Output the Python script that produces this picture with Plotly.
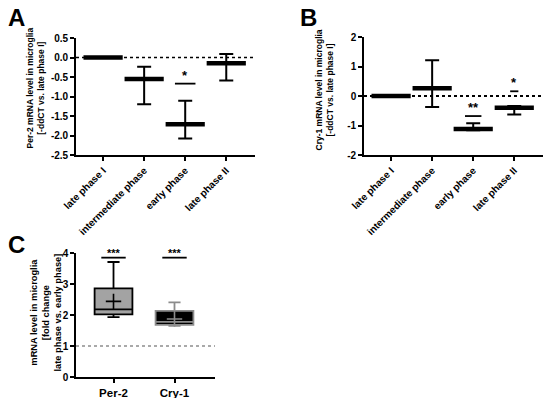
import plotly.graph_objects as go

# ---------------- data ----------------
phases = ["late phase I", "intermediate phase", "early phase", "late phase II"]

per2_mean = [0.0, -0.55, -1.71, -0.15]
per2_err_hi = [0.0, 0.31, 0.60, 0.24]
per2_err_lo = [0.0, 0.65, 0.37, 0.44]
per2_sig_idx = [2]
per2_sig_y = [-0.67]
per2_sig_txt = ["*"]
yA_ticks = [0.5, 0.0, -0.5, -1.0, -1.5, -2.0, -2.5]
yA_labels = ["0.5", "0.0", "-0.5", "-1.0", "-1.5", "-2.0", "-2.5"]

cry1_mean = [0.0, 0.26, -1.12, -0.40]
cry1_err_hi = [0.0, 0.95, 0.20, 0.06]
cry1_err_lo = [0.0, 0.63, 0.04, 0.23]
cry1_sig_idx = [2, 3]
cry1_sig_y = [-0.68, 0.16]
cry1_sig_txt = ["**", "*"]
yB_ticks = [2, 1, 0, -1, -2]
yB_labels = ["2", "1", "0", "-1", "-2"]

genes = ["Per-2", "Cry-1"]
box_lower = [1.93, 1.65]
box_q1 = [2.02, 1.68]
box_median = [2.18, 1.78]
box_q3 = [2.86, 2.13]
box_upper = [3.71, 2.41]
box_mean = [2.44, 1.87]
box_sig_y = [3.85, 3.85]
box_sig_txt = ["***", "***"]

ref_AB = 0
ref_C = 1

# ---------------- style ----------------
W, H = 550, 398
FONT = "Liberation Sans, Arial, sans-serif"
BLACK = "#000000"


def xd(a, b):
    return [a / W, b / W]


def yd(top, bottom):
    return [(H - bottom) / H, (H - top) / H]


fig = go.Figure()

# ----- Panel A & B: mean with error bars -----
for k, (mean, hi, lo, sidx, sy, stxt, xa, ya) in enumerate([
    (per2_mean, per2_err_hi, per2_err_lo, per2_sig_idx, per2_sig_y, per2_sig_txt, "x", "y"),
    (cry1_mean, cry1_err_hi, cry1_err_lo, cry1_sig_idx, cry1_sig_y, cry1_sig_txt, "x2", "y2"),
]):
    xs = list(range(len(phases)))
    fig.add_trace(go.Scatter(
        x=xs, y=mean, mode="markers", xaxis=xa, yaxis=ya,
        marker=dict(symbol="line-ew", size=28, color=BLACK,
                    line=dict(width=4.5, color=BLACK)),
        error_y=dict(type="data", array=hi, arrayminus=lo, symmetric=False,
                     color=BLACK, thickness=2, width=7),
        showlegend=False, hoverinfo="skip"))
    half = 0.25 if k == 0 else 0.2
    for i, yv, t in zip(sidx, sy, stxt):
        hw = half if t != "*" or k == 0 else 0.1
        fig.add_trace(go.Scatter(
            x=[i - hw, i + hw], y=[yv, yv], mode="lines", xaxis=xa, yaxis=ya,
            line=dict(color=BLACK, width=1.8), showlegend=False, hoverinfo="skip"))
        fig.add_annotation(x=i, y=yv, xref=xa, yref=ya, text="<b>" + t + "</b>",
                           showarrow=False, yanchor="bottom", yshift=-1,
                           font=dict(family=FONT, size=13, color=BLACK))

# ----- Panel C: box plots -----
box_fill = ["#a3a3a3", "#000000"]
box_line = ["#000000", "#8c8c8c"]
for j, g in enumerate(genes):
    fig.add_trace(go.Box(
        x=[j], q1=[box_q1[j]], median=[box_median[j]], q3=[box_q3[j]],
        lowerfence=[box_lower[j]], upperfence=[box_upper[j]],
        xaxis="x3", yaxis="y3", width=0.62, whiskerwidth=0.32,
        fillcolor=box_fill[j], line=dict(color=box_line[j], width=1.8),
        boxpoints=False, showlegend=False, hoverinfo="skip"))
    fig.add_trace(go.Scatter(
        x=[j], y=[box_mean[j]], mode="markers", xaxis="x3", yaxis="y3",
        marker=dict(symbol="cross-thin", size=11,
                    line=dict(width=1.6, color=box_line[j])),
        showlegend=False, hoverinfo="skip"))
    fig.add_trace(go.Scatter(
        x=[j - 0.2, j + 0.2], y=[box_sig_y[j], box_sig_y[j]], mode="lines",
        xaxis="x3", yaxis="y3", line=dict(color=BLACK, width=1.8),
        showlegend=False, hoverinfo="skip"))
    fig.add_annotation(x=j, y=box_sig_y[j], xref="x3", yref="y3",
                       text="<b>" + box_sig_txt[j] + "</b>", showarrow=False,
                       yanchor="bottom", yshift=-3,
                       font=dict(family=FONT, size=11, color=BLACK))

# reference lines
fig.add_shape(type="line", xref="x domain", yref="y", x0=0, x1=1, y0=ref_AB, y1=ref_AB,
              line=dict(color=BLACK, width=1.3, dash="dot"))
fig.add_shape(type="line", xref="x2 domain", yref="y2", x0=0, x1=1, y0=ref_AB, y1=ref_AB,
              line=dict(color=BLACK, width=1.8, dash="dot"))
fig.add_shape(type="line", xref="x3 domain", yref="y3", x0=0, x1=1, y0=ref_C, y1=ref_C,
              line=dict(color="#555555", width=1.1, dash="dot"))

tickfont = dict(family=FONT, size=10, color=BLACK, weight="bold")
axis_common = dict(showline=True, linecolor=BLACK, linewidth=1.6, ticks="outside",
                   ticklen=4, tickwidth=1.6, tickcolor=BLACK, showgrid=False,
                   zeroline=False, tickfont=tickfont)

fig.update_layout(
    width=W, height=H, margin=dict(l=0, r=0, t=0, b=0, autoexpand=False),
    paper_bgcolor="white", plot_bgcolor="white",
    font=dict(family=FONT, color=BLACK), showlegend=False,
    xaxis=dict(domain=xd(76, 255), range=[-0.66, 3.7], anchor="y",
               tickmode="array", tickvals=list(range(len(phases))), ticktext=phases,
               tickangle=-45, **axis_common),
    yaxis=dict(domain=yd(38, 155), range=[-2.5, 0.5], anchor="x",
               tickmode="array", tickvals=yA_ticks, ticktext=yA_labels, **axis_common),
    xaxis2=dict(domain=xd(364, 543), range=[-0.66, 3.7], anchor="y2",
                tickmode="array", tickvals=list(range(len(phases))), ticktext=phases,
                tickangle=-45, **axis_common),
    yaxis2=dict(domain=yd(37, 155), range=[-2, 2], anchor="x2",
                tickmode="array", tickvals=yB_ticks, ticktext=yB_labels, **axis_common),
    xaxis3=dict(domain=xd(76, 215), range=[-0.615, 1.664], anchor="y3",
                tickmode="array", tickvals=list(range(len(genes))), ticktext=genes,
                **{**axis_common,
                   "tickfont": dict(family=FONT, size=11.5, color=BLACK, weight="bold")}),
    yaxis3=dict(domain=yd(253, 377), range=[0, 4], anchor="x3", dtick=1,
                **axis_common),
)

# axis titles & panel letters as annotations
def ann(x, y, text, size, angle=0):
    fig.add_annotation(x=x / W, y=(H - y) / H, xref="paper", yref="paper",
                       text=text, showarrow=False, textangle=angle,
                       xanchor="center", yanchor="middle", borderpad=0,
                       font=dict(family=FONT, size=size, color=BLACK))

ann(35.5, 88, "<b>Per-2 mRNA level in microglia<br>[-ddCT vs. late phase I]</b>", 8.5, -90)
ann(324.5, 90, "<b>Cry-1 mRNA level in microglia<br>[-ddCT vs. late phase I]</b>", 8.5, -90)
ann(45.5, 313, "<b>mRNA level in microglia<br>[fold change<br>late phase vs. early phase]</b>", 9.3, -90)
ann(16, 17, "<b>A</b>", 24)
ann(308, 17, "<b>B</b>", 24)
ann(16, 245, "<b>C</b>", 24)

fig.write_html("out.html", config={"displayModeBar": False},
               post_script="document.body.style.margin='0';document.body.style.overflow='hidden';")
